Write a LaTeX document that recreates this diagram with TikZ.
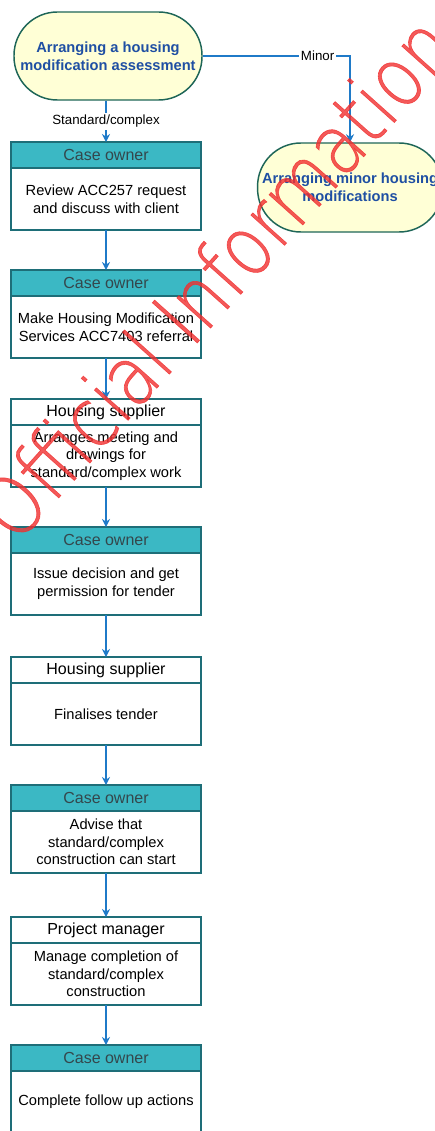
\documentclass[tikz,border=0pt]{standalone}
\usepackage{fontspec}
\setmainfont{Liberation Sans}
\newfontfamily\wmfont{DejaVuSans-ExtraLight.ttf}
\usetikzlibrary{positioning,arrows.meta}

\definecolor{headteal}{HTML}{3BB8C4}
\definecolor{headtext}{HTML}{34474C}
\definecolor{boxline}{HTML}{1E6E78}
\definecolor{flowblue}{HTML}{1F7AC8}
\definecolor{stadfill}{HTML}{FFFFD6}
\definecolor{stadline}{HTML}{1E6658}
\definecolor{stadtext}{HTML}{1F4FA3}
\definecolor{wmred}{HTML}{F03030}

\tikzset{
  boxhead/.style={draw=boxline, line width=1.1pt, outer sep=0pt, inner sep=0pt,
    minimum width=142.5pt, minimum height=19.5pt, font=\fontsize{12}{14}\selectfont},
  tealhead/.style={boxhead, fill=headteal, text=headtext},
  whitehead/.style={boxhead, fill=white, text=black},
  boxbody/.style={draw=boxline, line width=1.1pt, outer sep=0pt, fill=white,
    minimum width=142.5pt, minimum height=46.5pt, inner sep=1pt, align=center,
    font=\fontsize{11}{13.3}\selectfont},
  terminal/.style={draw=stadline, line width=1.1pt, fill=stadfill, rounded corners=32.5pt,
    minimum width=141pt, minimum height=66pt, align=center, text=stadtext,
    font=\bfseries\fontsize{11}{13.5}\selectfont},
  flow/.style={draw=flowblue, line width=1.5pt, ->},
  lbl/.style={fill=white, inner sep=1.5pt, text=black, font=\fontsize{10}{12}\selectfont},
  >={Stealth[length=6pt, width=6pt]},
}

\begin{document}
\begin{tikzpicture}[x=0.75pt, y=-0.75pt]
	\useasboundingbox (0,0) rectangle (435,1131);
	\clip (0,0) rectangle (435,1131);

	% start and minor branch
	\node[terminal] (assess) at (108,56) {Arranging a housing\\modification assessment};
	\node[terminal, minimum width=138pt, minimum height=66.75pt] (minor) at (350,187.5) {Arranging minor housing\\modifications};

	% process boxes
	\node[tealhead, anchor=north] (h1) at (106,142) {Case owner};
	\node[boxbody, below=0pt of h1] (b1) {Review ACC257 request\\and discuss with client};

	\node[tealhead, anchor=north] (h2) at (106,270) {Case owner};
	\node[boxbody, below=0pt of h2] (b2) {Make Housing Modification\\Services ACC7403 referral};

	\node[whitehead, anchor=north] (h3) at (106,399) {Housing supplier};
	\node[boxbody, below=0pt of h3] (b3) {Arranges meeting and\\drawings for\\standard/complex work};

	\node[tealhead, anchor=north] (h4) at (106,527) {Case owner};
	\node[boxbody, below=0pt of h4] (b4) {Issue decision and get\\permission for tender};

	\node[whitehead, anchor=north] (h5) at (106,657) {Housing supplier};
	\node[boxbody, below=0pt of h5] (b5) {Finalises tender};

	\node[tealhead, anchor=north] (h6) at (106,785) {Case owner};
	\node[boxbody, below=0pt of h6] (b6) {Advise that\\standard/complex\\construction can start};

	\node[whitehead, anchor=north] (h7) at (106,917) {Project manager};
	\node[boxbody, below=0pt of h7] (b7) {Manage completion of\\standard/complex\\construction};

	\node[tealhead, anchor=north] (h8) at (106,1045) {Case owner};
	\node[boxbody, below=0pt of h8] (b8) {Complete follow up actions};

	% connectors
	\draw[flow] (assess.south -| h1.north) -- node[lbl] {Standard/complex} (h1.north);
	\draw[flow] (assess.east) -| node[lbl, pos=0.39] {Minor} (minor.north);
	\draw[flow] (b1) -- (h2);
	\draw[flow] (b2) -- (h3);
	\draw[flow] (b3) -- (h4);
	\draw[flow] (b4) -- (h5);
	\draw[flow] (b5) -- (h6);
	\draw[flow] (b6) -- (h7);
	\draw[flow] (b7) -- (h8);

	% watermark
	\node[rotate=48.2, text=wmred, text opacity=0.8, font=\wmfont\fontsize{62}{62}\selectfont] (wmark) at (215,277)
		{\scalebox{0.84}[1]{\special{pdf:literal direct 2 Tr 0.5 w}Official Information\special{pdf:literal direct 0 Tr}}};
\end{tikzpicture}
\end{document}
